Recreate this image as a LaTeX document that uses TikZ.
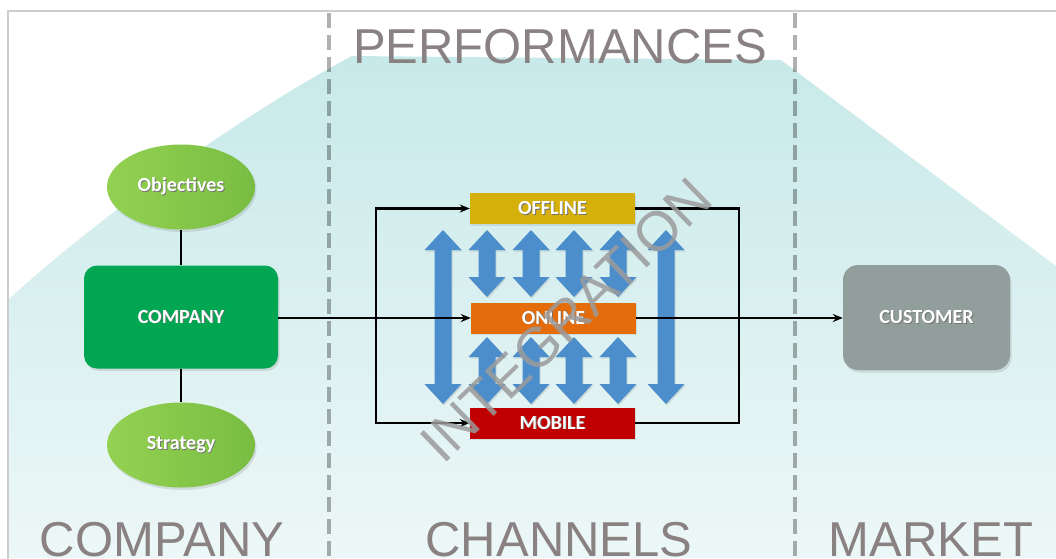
\documentclass[tikz,border=0pt]{standalone}
\usepackage{fontspec}
\setmainfont{Liberation Sans}
\newfontfamily\boxfont{Carlito}
\usetikzlibrary{arrows.meta,shapes.geometric,shadows,calc}

\definecolor{tealtop}{RGB}{200,233,233}
\definecolor{tealbot}{RGB}{237,247,247}
\definecolor{titlegray}{RGB}{138,130,130}
\definecolor{framegray}{RGB}{205,205,205}
\definecolor{compgreen}{RGB}{0,166,81}
\definecolor{leafgreen}{RGB}{148,209,82}
\definecolor{leafdark}{RGB}{120,189,66}
\definecolor{offgold}{RGB}{214,176,10}
\definecolor{onorange}{RGB}{228,108,10}
\definecolor{mobred}{RGB}{192,0,0}
\definecolor{custgray}{RGB}{146,158,156}
\definecolor{flowblue}{RGB}{76,142,204}
\definecolor{markgray}{RGB}{155,155,155}

% white label with a soft dark offset copy underneath
\newcommand\shadowed[1]{\makebox[0pt][l]{\kern0.9pt\raisebox{-0.9pt}{\textcolor{black!55}{#1}}}#1}

% vertical two-headed block arrow: x, top tip y, bottom tip y
\newcommand\twoway[3]{%
  \fill[flow] (#1,#2) -- (#1+18.5,#2+20) -- (#1+8.5,#2+20) -- (#1+8.5,#3-20)
    -- (#1+18.5,#3-20) -- (#1,#3) -- (#1-18.5,#3-20) -- (#1-8.5,#3-20)
    -- (#1-8.5,#2+20) -- (#1-18.5,#2+20) -- cycle;}

\begin{document}
\begin{tikzpicture}[x=1pt,y=-1pt,
  coltitle/.style={text=titlegray, font=\fontsize{49}{55}\selectfont, inner sep=0pt, anchor=base},
  lbl/.style={text=white, font=\boxfont\bfseries\fontsize{20}{23}\selectfont, inner sep=0pt},
  softshadow/.style={drop shadow={opacity=0.22, shadow xshift=1.5pt, shadow yshift=-2.5pt}},
  bigbox/.style={lbl, rounded corners=13pt, minimum width=194pt, minimum height=103pt, softshadow},
  leaf/.style={lbl, ellipse, minimum width=148pt, minimum height=85pt,
    left color=leafgreen, right color=leafdark, softshadow},
  channel/.style={lbl, minimum width=165pt, minimum height=31pt,
    drop shadow={opacity=0.2, shadow xshift=1pt, shadow yshift=-1.5pt}},
  divider/.style={line width=4pt, black, opacity=0.31, dash pattern=on 15pt off 7pt},
  link/.style={line width=2.5pt, black},
  flowto/.style={link, -{Stealth[length=10pt,width=8pt]}},
  flow/.style={fill=flowblue, drop shadow={opacity=0.22, shadow xshift=1pt, shadow yshift=-1.5pt}},
  watermark/.style={text=markgray, opacity=0.85, font=\fontsize{56}{60}\selectfont, inner sep=0pt}
]
\useasboundingbox (0,0) rectangle (1056,558);
\fill[white] (0,0) rectangle (1056,558);

% backdrop
\shade[top color=tealtop, bottom color=tealbot]
  (8,300) .. controls (100,215) and (250,110) .. (352,56) -- (781,60)
  -- (1056,266) -- (1056,558) -- (8,558) -- cycle;
\draw[framegray, line width=1.3pt] (8,559) -- (8,11) -- (1057,11);

% column separators
\draw[divider] (329,13) -- (329,558);
\draw[divider] (795,13) -- (795,558);

% column titles
\node[coltitle] (perf) at (560,63) {PERFORMANCES};
\node[coltitle] (colcomp) at (162,556) {COMPANY};
\node[coltitle] (colchan) at (559,556) {CHANNELS};
\node[coltitle] (colmark) at (931,556) {MARKET};

% company side
\node[leaf] (obj) at (181,187) {\shadowed{Objectives}};
\node[bigbox, fill=compgreen] (company) at (181,317) {\shadowed{COMPANY}};
\node[leaf] (strat) at (181,445) {\shadowed{Strategy}};

% channels
\node[channel, fill=offgold] (offline) at (552.5,208.5) {\shadowed{OFFLINE}};
\node[channel, fill=onorange] (online) at (553.5,318) {\shadowed{ONLINE}};
\node[channel, fill=mobred] (mobile) at (552.5,423) {\shadowed{MOBILE}};

% market
\node[bigbox, fill=custgray, minimum width=167pt, minimum height=105pt, rounded corners=15pt]
  (customer) at (926.5,317.5) {\shadowed{CUSTOMER}};

% integration arrows
\twoway{443}{230}{404}
\twoway{666}{230}{404}
\foreach \x in {487,531,574,618} {
  \twoway{\x}{230}{297}
  \twoway{\x}{337}{404}
}

% connectors
\coordinate (split) at (376,318);
\coordinate (merge) at (739,318);
\draw[link] (obj) -- (company);
\draw[link] (company) -- (strat);
\draw[flowto] (online.west -| company.east) -- (online.west);
\draw[flowto] (split) |- (offline.west);
\draw[flowto] (split) |- (mobile.west);
\draw[link] (offline.east) -| (merge) |- (mobile.east);
\draw[flowto] (online.east) -- (online.east -| customer.west);

% watermark
\node[watermark, rotate=44] (integ) at (566,320) {INTEGRATION};
\end{tikzpicture}
\end{document}
